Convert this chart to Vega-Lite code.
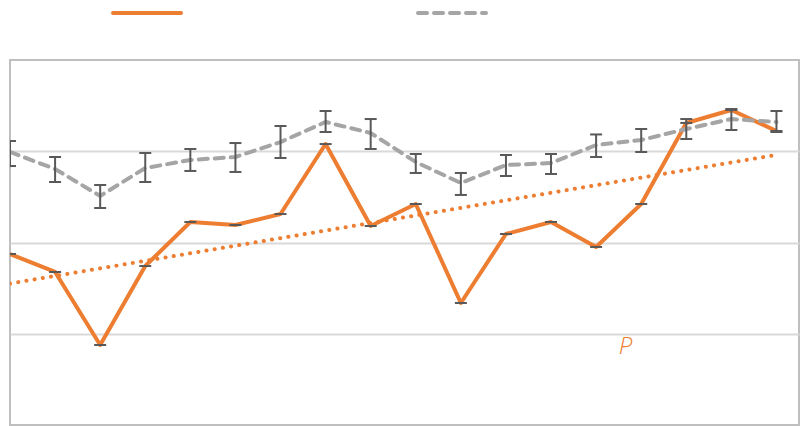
{
  "$schema": "https://vega.github.io/schema/vega-lite/v6.json",
  "width": 789,
  "height": 365,
  "autosize": {"type": "none"},
  "padding": {"left": 10, "top": 60, "right": 1, "bottom": 1},
  "background": "white",
  "config": {
    "view": {"stroke": "#BFBFBF", "strokeWidth": 2},
    "axis": {"grid": false}
  },
  "datasets": {
    "measured": [
      {"i": 0, "p": 1.874},
      {"i": 1, "p": 1.677},
      {"i": 2, "p": 0.877},
      {"i": 3, "p": 1.742},
      {"i": 4, "p": 2.225},
      {"i": 5, "p": 2.192},
      {"i": 6, "p": 2.312},
      {"i": 7, "p": 3.079},
      {"i": 8, "p": 2.181},
      {"i": 9, "p": 2.422},
      {"i": 10, "p": 1.337},
      {"i": 11, "p": 2.093},
      {"i": 12, "p": 2.225},
      {"i": 13, "p": 1.951},
      {"i": 14, "p": 2.422},
      {"i": 15, "p": 3.31},
      {"i": 16, "p": 3.452},
      {"i": 17, "p": 3.222}
    ],
    "reference": [
      {"i": 0, "v": 2.992, "lo": 2.838, "hi": 3.112},
      {"i": 1, "v": 2.805, "lo": 2.663, "hi": 2.937},
      {"i": 2, "v": 2.51, "lo": 2.378, "hi": 2.63},
      {"i": 3, "v": 2.816, "lo": 2.663, "hi": 2.981},
      {"i": 4, "v": 2.904, "lo": 2.784, "hi": 3.025},
      {"i": 5, "v": 2.937, "lo": 2.773, "hi": 3.09},
      {"i": 6, "v": 3.101, "lo": 2.926, "hi": 3.277},
      {"i": 7, "v": 3.321, "lo": 3.211, "hi": 3.441},
      {"i": 8, "v": 3.2, "lo": 3.025, "hi": 3.353},
      {"i": 9, "v": 2.882, "lo": 2.762, "hi": 2.97},
      {"i": 10, "v": 2.652, "lo": 2.521, "hi": 2.762},
      {"i": 11, "v": 2.849, "lo": 2.729, "hi": 2.959},
      {"i": 12, "v": 2.871, "lo": 2.751, "hi": 2.97},
      {"i": 13, "v": 3.068, "lo": 2.937, "hi": 3.184},
      {"i": 14, "v": 3.123, "lo": 2.992, "hi": 3.244},
      {"i": 15, "v": 3.244, "lo": 3.134, "hi": 3.353},
      {"i": 16, "v": 3.353, "lo": 3.233, "hi": 3.463},
      {"i": 17, "v": 3.321, "lo": 3.211, "hi": 3.441}
    ],
    "series": [
      {"s": "measured"},
      {"s": "reference"}
    ]
  },
  "encoding": {
    "x": {"type": "quantitative", "scale": {"domain": [0, 17.5], "nice": false, "zero": false}, "axis": null}
  },
  "layer": [
    {
      "data": {"name": "series"},
      "mark": {"type": "rule", "opacity": 0},
      "encoding": {
        "y": {"datum": 4, "type": "quantitative", "scale": {"domain": [0, 4], "nice": false},
              "axis": {"values": [1, 2, 3], "grid": true, "gridColor": "#D9D9D9", "gridWidth": 2,
                       "domain": false, "ticks": false, "labels": false, "title": null}},
        "color": {"field": "s", "type": "nominal",
                  "scale": {"domain": ["measured", "reference"], "range": ["#ED7D31", "#A5A5A5"]},
                  "legend": {"orient": "none", "legendX": 101, "legendY": -83, "direction": "horizontal",
                             "title": null, "labelExpr": "''", "symbolType": "stroke", "symbolSize": 4624,
                             "symbolStrokeWidth": 4, "symbolOpacity": 1, "columnPadding": 221,
                             "labelOffset": 0, "padding": 0, "symbolOffset": 0,
                             "encode": {"symbols": {"update": {"strokeCap": {"value": "round"}}}}}},
        "strokeDash": {"field": "s", "type": "nominal",
                       "scale": {"domain": ["measured", "reference"], "range": [[1, 0], [9, 7]]}}
      }
    },
    {
      "data": {"name": "measured"},
      "transform": [{"regression": "p", "on": "i", "extent": [0, 17]}],
      "mark": {"type": "line", "color": "#ED7D31", "strokeWidth": 4, "strokeDash": [0.1, 8.2], "strokeCap": "round", "clip": true},
      "encoding": {
        "x": {"field": "i", "type": "quantitative"},
        "y": {"field": "p", "type": "quantitative"}
      }
    },
    {
      "data": {"name": "measured"},
      "mark": {"type": "line", "color": "#ED7D31", "strokeWidth": 4, "strokeJoin": "round", "clip": true},
      "encoding": {
        "x": {"field": "i", "type": "quantitative"},
        "y": {"field": "p", "type": "quantitative"}
      }
    },
    {
      "data": {"name": "measured"},
      "mark": {"type": "tick", "orient": "horizontal", "color": "#595959", "size": 12, "thickness": 2, "opacity": 1, "clip": true},
      "encoding": {
        "x": {"field": "i", "type": "quantitative"},
        "y": {"field": "p", "type": "quantitative"}
      }
    },
    {
      "data": {"name": "reference"},
      "mark": {"type": "line", "color": "#A5A5A5", "strokeWidth": 4, "strokeDash": [9, 7], "strokeCap": "round", "clip": true},
      "encoding": {
        "x": {"field": "i", "type": "quantitative"},
        "y": {"field": "v", "type": "quantitative"}
      }
    },
    {
      "data": {"name": "reference"},
      "mark": {"type": "rule", "color": "#595959", "strokeWidth": 2, "clip": true},
      "encoding": {
        "x": {"field": "i", "type": "quantitative"},
        "y": {"field": "lo", "type": "quantitative"},
        "y2": {"field": "hi"}
      }
    },
    {
      "data": {"name": "reference"},
      "mark": {"type": "tick", "orient": "horizontal", "color": "#595959", "size": 12, "thickness": 2, "opacity": 1, "clip": true},
      "encoding": {
        "x": {"field": "i", "type": "quantitative"},
        "y": {"field": "lo", "type": "quantitative"}
      }
    },
    {
      "data": {"name": "reference"},
      "mark": {"type": "tick", "orient": "horizontal", "color": "#595959", "size": 12, "thickness": 2, "opacity": 1, "clip": true},
      "encoding": {
        "x": {"field": "i", "type": "quantitative"},
        "y": {"field": "hi", "type": "quantitative"}
      }
    },
    {
      "data": {"values": [{"label": "P"}]},
      "mark": {"type": "text", "color": "#ED7D31", "font": "Open Sans", "fontStyle": "italic", "fontWeight": 300,
               "fontSize": 24, "align": "center", "baseline": "middle"},
      "encoding": {
        "x": {"datum": 13.65, "type": "quantitative"},
        "y": {"datum": 0.86, "type": "quantitative"},
        "text": {"field": "label"}
      }
    }
  ]
}
